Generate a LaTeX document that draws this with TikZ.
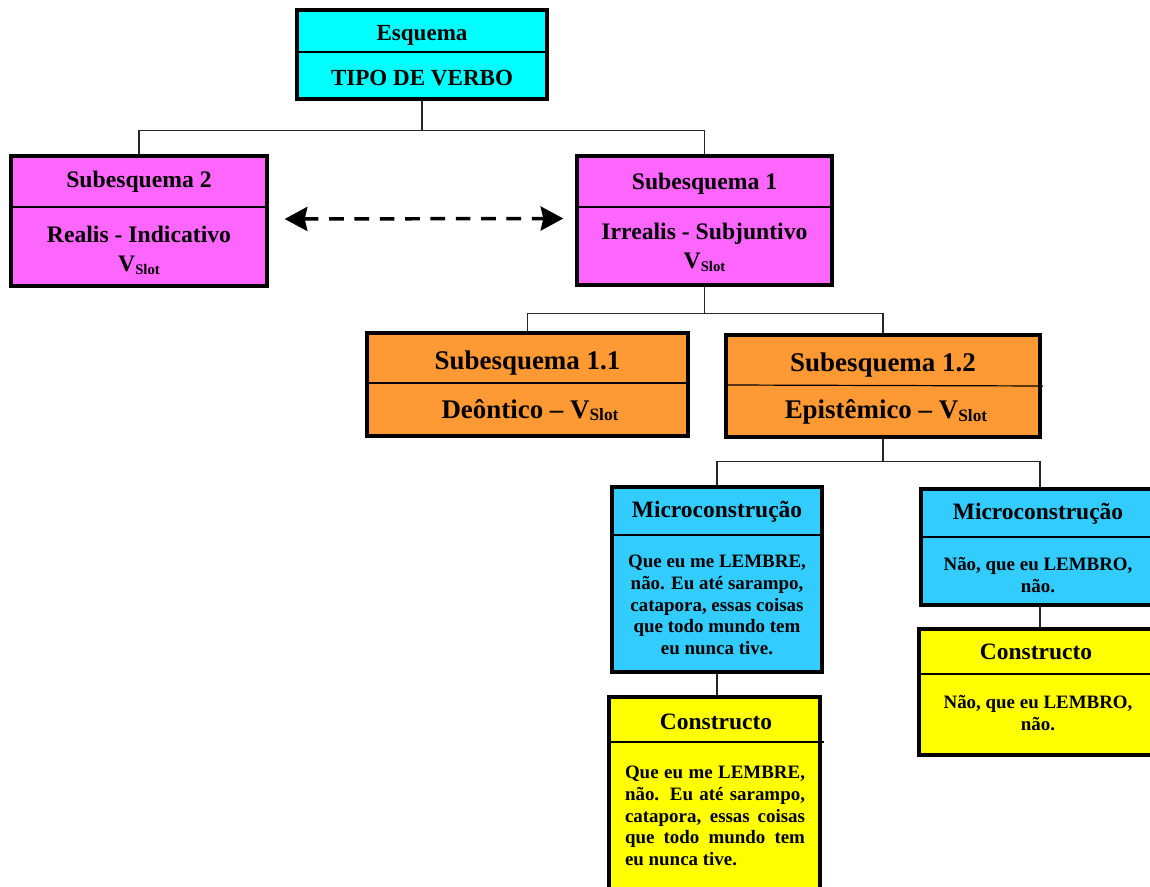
\documentclass[tikz,border=0pt]{standalone}
\usepackage{fontspec}
\setmainfont{Liberation Serif}
\usetikzlibrary{arrows.meta,fit}
\definecolor{cyanc}{HTML}{00FFFF}
\definecolor{pinkc}{HTML}{FF66FF}
\definecolor{orangec}{HTML}{FF9933}
\definecolor{bluec}{HTML}{33CCFF}
\definecolor{yellowc}{HTML}{FFFF00}
\newcommand\myslot[1]{V\raisebox{-2pt}{\fontsize{#1}{#1}\selectfont Slot}}
\newcommand\jline[1]{\makebox[135pt][s]{#1}}
\tikzset{
  box/.style={draw=black, line width=2.5pt, inner sep=0pt, rectangle},
  divline/.style={line width=0.9pt, draw=black},
  conn/.style={line width=1.1pt, draw=black!85},
  darrow/.style={line width=2.6pt, dash pattern=on 11pt off 8pt,
    {Stealth[length=17pt,width=18pt,inset=2pt]}-{Stealth[length=17pt,width=18pt,inset=2pt]}},
  tEsq/.style={font=\fontsize{17.3}{20}\selectfont\bfseries, inner sep=0pt},
  tSub/.style={font=\fontsize{17.75}{20}\selectfont\bfseries, inner sep=0pt},
  tOr/.style={font=\fontsize{20.2}{24}\selectfont\bfseries, inner sep=0pt},
  tHead/.style={font=\fontsize{17.6}{20}\selectfont\bfseries, inner sep=0pt},
  tBody/.style={font=\fontsize{14.2}{16.2}\selectfont\bfseries, inner sep=0pt, align=center},
  tJust/.style={font=\fontsize{14.2}{16.2}\selectfont\bfseries, inner sep=0pt, align=left},
}
\begin{document}
\begin{tikzpicture}[x=0.75pt,y=-0.75pt]
\useasboundingbox (0,0) rectangle (1150,887);
\clip (0,0) rectangle (1150,887);

% ---------- boxes ----------
\node[box, fill=cyanc, fit={(297,10) (547,99)}] (esq) {};
\draw[divline] (297,52) -- (547,52);
\node[tEsq] (esqA) at (422,35) {Esquema};
\node[tEsq] (esqB) at (422,78) {TIPO DE VERBO};

\node[box, fill=pinkc, fit={(11,156) (267,286)}] (sub2) {};
\draw[divline] (11,207) -- (267,207);
\node[tSub] (sub2A) at (139,182) {Subesquema 2};
\node[tSub] (sub2B) at (139,234) {Realis - Indicativo};
\node[tSub] (sub2C) at (139,265) {\myslot{11}};

\node[box, fill=pinkc, fit={(577,156) (832,285)}] (sub1) {};
\draw[divline] (577,207) -- (832,207);
\node[tSub] (sub1A) at (704.5,184) {Subesquema 1};
\node[tSub] (sub1B) at (704.5,234) {Irrealis - Subjuntivo};
\node[tSub] (sub1C) at (704.5,262) {\myslot{11}};

\node[box, fill=orangec, fit={(367,333) (688,436)}] (s11) {};
\draw[divline] (367,383) -- (688,383);
\node[tOr] (s11A) at (527.5,363) {Subesquema 1.1};
\node[tOr] (s11B) at (530,410) {Deôntico – \myslot{13}};

\node[box, fill=orangec, fit={(726,335) (1040,437)}] (s12) {};
\draw[divline] (726,385) -- (1043,386);
\node[tOr] (s12A) at (883,365) {Subesquema 1.2};
\node[tOr] (s12B) at (886,412) {Epistêmico – \myslot{13}};

\node[box, fill=bluec, fit={(612,487) (822,672)}] (mic1) {};
\draw[divline] (612,535) -- (824,535);
\node[tHead] (mic1A) at (717,512) {Microconstrução};
\node[tBody] (mic1B) at (717,605) {Que eu me LEMBRE,\\ não. Eu até sarampo,\\ catapora, essas coisas\\ que todo mundo tem\\ eu nunca tive.};

\node[box, fill=yellowc, fit={(609,697) (820,900)}] (con1) {};
\draw[divline] (609,742) -- (824,742);
\node[tHead] (con1A) at (716,722) {Constructo};
\node[tJust] (con1B) at (715,816) {\jline{Que eu me LEMBRE,}\\ \jline{não. Eu até sarampo,}\\ \jline{catapora, essas coisas}\\ \jline{que todo mundo tem}\\ \makebox[135pt][l]{eu nunca tive.}};

\node[box, fill=bluec, fit={(921,489) (1159,605)}] (mic2) {};
\draw[divline] (921,537) -- (1159,537);
\node[tHead] (mic2A) at (1038,514) {Microconstrução};
\node[tBody] (mic2B) at (1038,575) {Não, que eu LEMBRO,\\ não.};

\node[box, fill=yellowc, fit={(919,629) (1161,755)}] (con2) {};
\draw[divline] (919,674) -- (1161,674);
\node[tHead] (con2A) at (1036,652) {Constructo};
\node[tBody] (con2B) at (1038,713) {Não, que eu LEMBRO,\\ não.};

% ---------- connectors ----------
\draw[conn] (esq.south) -- ++(0,30) coordinate (j1);
\draw[conn] (j1) -| (sub2.north);
\draw[conn] (j1) -| (sub1.north);

\draw[conn] (sub1.south) -- ++(0,27) coordinate (j2);
\draw[conn] (j2) -| (s11.north);
\draw[conn] (j2) -| (s12.north);

\draw[conn] (s12.south) -- ++(0,23) coordinate (j3);
\draw[conn] (j3) -| (mic1.north);
\draw[conn] (j3) -| (mic2.north);

\draw[conn] (mic1.south) -- (mic1.south |- con1.north);
\draw[conn] (mic2.south) -- (mic2.south |- con2.north);

\draw[darrow] ([xshift=12pt,yshift=1.5pt]sub2.east) -- ([xshift=-9pt,yshift=1.5pt]sub1.west);
\end{tikzpicture}
\end{document}
